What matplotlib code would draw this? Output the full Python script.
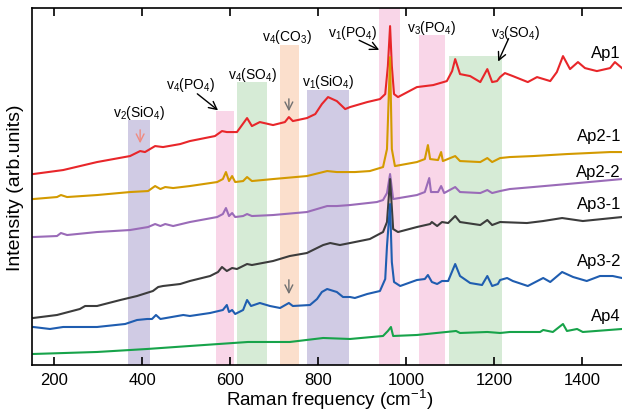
import numpy as np
import matplotlib
matplotlib.use("Agg")
from matplotlib import pyplot as plt

plt.rcParams['font.family'] = ['Liberation Sans', 'DejaVu Sans']
plt.rcParams['mathtext.fontset'] = 'custom'
plt.rcParams['mathtext.rm'] = 'Liberation Sans'
plt.rcParams['mathtext.it'] = 'Liberation Sans'

# ---- spectra (Raman shift in cm-1, intensity in arb. units, already offset) ----
ap1_x = [152, 220, 297, 372, 395, 406, 429, 447, 486, 508, 565, 581, 592, 599, 615, 638, 649, 667,
         697, 724, 733, 742, 774, 793, 808, 822, 842, 861, 872, 911, 940, 952, 958, 963, 967, 972,
         981, 1024, 1061, 1092, 1104, 1111, 1122, 1145, 1168, 1184, 1195, 1206, 1213, 1224, 1242,
         1276, 1297, 1327, 1342, 1356, 1372, 1390, 1406, 1433, 1463, 1474, 1490]
ap1_y = [191, 195, 203, 209, 214, 213, 219, 218, 221, 224, 229, 234, 233, 233, 233, 247, 239, 243,
         240, 243, 248, 244, 247, 251, 261, 268, 264, 256, 258, 263, 266, 271, 299, 339, 299, 271,
         268, 278, 280, 284, 294, 306, 291, 289, 283, 296, 283, 284, 288, 292, 289,
         283, 288, 284, 293, 309, 296, 303, 297, 294, 297, 303, 297]

ap21_x = [152, 206, 215, 229, 297, 372, 413, 429, 441, 452, 470, 508, 570, 583, 590, 597, 604, 611,
          629, 638, 649, 697, 774, 820, 842, 883, 917, 947, 956, 963, 967, 974, 1024, 1042, 1049,
          1054, 1072, 1079, 1083, 1111, 1122, 1168, 1184, 1195, 1213, 1235, 1288, 1365, 1463, 1490]
ap21_y = [166, 168, 170, 168, 170, 173, 174, 179, 176, 178, 177, 179, 183, 186, 193, 184, 189, 183,
          184, 188, 184, 186, 189, 194, 193, 193, 194, 198, 216, 308, 216, 199, 203, 206, 220,
          206, 205, 213, 204, 209, 204, 203, 207, 203, 207, 208, 209, 211, 213, 213]

ap22_x = [152, 206, 215, 229, 297, 372, 413, 429, 441, 452, 470, 508, 570, 583, 590, 597, 604, 611,
          629, 638, 649, 697, 774, 820, 842, 872, 933, 947, 956, 963, 970, 1024, 1042, 1052, 1056,
          1072, 1079, 1086, 1111, 1122, 1168, 1184, 1195, 1213, 1235, 1288, 1365, 1440, 1490]
ap22_y = [128, 129, 132, 130, 133, 135, 138, 141, 139, 141, 139, 143, 148, 151, 157, 149, 152, 148,
          149, 151, 149, 150, 153, 159, 159, 160, 163, 165, 172, 191, 166, 170, 173, 187, 173,
          173, 179, 172, 178, 173, 172, 175, 172, 174, 176, 178, 181, 184, 186]

ap31_x = [152, 206, 258, 270, 297, 350, 388, 424, 436, 447, 486, 508, 554, 572, 581, 592, 604, 615,
          638, 649, 697, 735, 774, 797, 811, 827, 849, 872, 917, 947, 956, 963, 970, 981, 1024,
          1054, 1058, 1070, 1081, 1095, 1111, 1122, 1168, 1184, 1195, 1213, 1274, 1311, 1354,
          1401, 1490]
ap31_y = [47, 50, 56, 59, 59, 65, 69, 74, 78, 79, 81, 84, 89, 93, 98, 94, 97, 96,
          101, 100, 104, 109, 112, 117, 120, 122, 120, 122, 126, 133, 143, 186, 136, 133, 138,
          141, 143, 139, 143, 142, 149, 143, 140, 145, 140, 143, 142, 144, 147,
          144, 148]

ap32_x = [152, 190, 220, 297, 361, 388, 411, 422, 431, 441, 493, 508, 554, 583, 592, 597, 604, 611,
          629, 638, 647, 667, 690, 713, 733, 742, 781, 797, 808, 820, 842, 856, 872, 883, 911, 940,
          952, 956, 963, 967, 972, 986, 1024, 1042, 1049, 1058, 1070, 1081, 1095, 1111, 1122,
          1145, 1172, 1184, 1195, 1208, 1213, 1229, 1242, 1276, 1311, 1327, 1354, 1379, 1410,
          1440, 1469, 1490]
ap32_y = [38, 36, 38, 38, 41, 45, 46, 46, 50, 46, 50, 49, 52, 55, 60, 53, 55, 51,
          55, 65, 59, 62, 59, 57, 62, 59, 60, 66, 73, 76, 73, 68, 68, 67, 71, 74,
          86, 119, 161, 103, 83, 79, 85, 86, 90, 83, 81, 84, 84, 101, 89,
          82, 80, 89, 79, 81, 85, 87, 84, 79, 87, 83, 93, 88, 84,
          89, 89, 87]

ap4_x = [152, 297, 411, 508, 640, 735, 811, 872, 947, 958, 965, 970, 1024, 1113, 1122, 1184, 1213,
         1235, 1304, 1311, 1333, 1356, 1365, 1388, 1401, 1490]
ap4_y = [11, 13, 16, 19, 23, 23, 27, 26, 29, 34, 38, 29, 30, 34, 32, 33, 32,
         33, 33, 35, 33, 41, 34, 36, 33, 36]

names = ['Ap1', 'Ap2-1', 'Ap2-2', 'Ap3-1', 'Ap3-2', 'Ap4']
colors = ['#e8262a', '#d39a00', '#9a6bb8', '#3c3c3c', '#1f5db0', '#17a34a']
label_y = [313, 230, 194, 162, 105, 49]

# ---- highlighted bands: lower edge, upper edge, height, colour ----
band_lo = [367, 567, 616, 712, 775, 937, 1029, 1097]
band_hi = [418, 608, 683, 757, 870, 986, 1087, 1217]
band_top = [245, 254, 283, 320, 275, 357, 330, 309]
band_col = ['#d0cbe4', '#f9d6e8', '#d6ebd6', '#fbdfcc', '#d0cbe4', '#f9d6e8', '#f9d6e8', '#d6ebd6']

# ---- annotations ----
ann_text = [r'v$_2$(SiO$_4$)', r'v$_4$(PO$_4$)', r'v$_4$(SO$_4$)', r'v$_4$(CO$_3$)',
            r'v$_1$(SiO$_4$)', r'v$_1$(PO$_4$)', r'v$_3$(PO$_4$)', r'v$_3$(SO$_4$)']
ann_x = [393, 509, 650, 729, 822, 877, 1058, 1249]
ann_y = [253, 281, 291, 329, 284, 333, 338, 333]

# arrows: (tail x, tail y, head x, head y, colour)
arrows = [
    (395, 238, 395, 219, '#f08a80'),
    (520, 273, 577, 253, 'black'),
    (733, 269, 733, 251, '#707070'),
    (733, 88, 733, 68, '#707070'),
    (887, 326, 944, 314, 'black'),
    (1235, 329, 1206, 301, 'black'),
]

fig = plt.figure(figsize=(6.22, 4.14), dpi=100)
ax = fig.add_axes([0.052, 0.116, 0.955, 0.862])

for lo, hi, top, c in zip(band_lo, band_hi, band_top, band_col):
    ax.bar((lo + hi) / 2, top, width=hi - lo, bottom=0, color=c, linewidth=0, zorder=0)

spectra = [(ap1_x, ap1_y), (ap21_x, ap21_y), (ap22_x, ap22_y),
           (ap31_x, ap31_y), (ap32_x, ap32_y), (ap4_x, ap4_y)]
for (x, y), c in zip(spectra, colors):
    ax.plot(x, y, color=c, lw=1.5, zorder=2)

for n, yl in zip(names, label_y):
    ax.text(1488, yl, n, ha='right', va='center', fontsize=12)

for t, x, y in zip(ann_text, ann_x, ann_y):
    ax.text(x, y, t, ha='center', va='center', fontsize=10)

for x0, y0, x1, y1, c in arrows:
    ax.annotate('', xy=(x1, y1), xytext=(x0, y0),
                arrowprops=dict(arrowstyle='->', color=c, lw=1.0, mutation_scale=14))

ax.set_xlim(150, 1500)
ax.set_ylim(0, 357)
ax.set_xticks([200, 400, 600, 800, 1000, 1200, 1400])
ax.set_yticks([])
ax.tick_params(axis='x', direction='in', top=True, length=6, width=1.2, labelsize=12, pad=5)
for s in ax.spines.values():
    s.set_linewidth(1.2)
ax.set_xlabel('Raman frequency (cm$^{-1}$)', fontsize=13.5, labelpad=0)
ax.set_ylabel('Intensity (arb.units)', fontsize=14, labelpad=6)

plt.savefig('out.png', dpi=100)
